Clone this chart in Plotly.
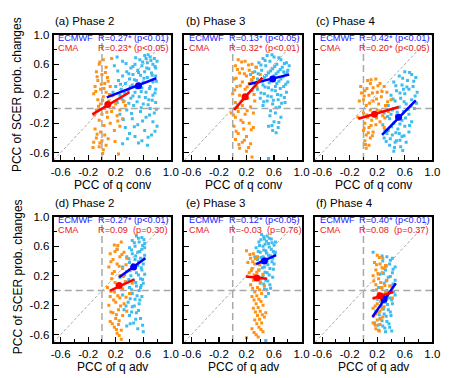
import plotly.graph_objects as go

# ---------------- data ----------------
TITLES = ["(a) Phase 2", "(b) Phase 3", "(c) Phase 4", "(d) Phase 2", "(e) Phase 3", "(f) Phase 4"]
XTITLES = ["PCC of q conv"] * 3 + ["PCC of q adv"] * 3
YTITLE = "PCC of SCER prob. changes"
TICK_VALS = [-0.6, -0.2, 0.2, 0.6, 1.0]
TICK_TEXT = ["-0.6", "-0.2", "0.2", "0.6", "1.0"]
AXIS_RANGE = [-0.7, 1.0]

ECMWF_R = ["R=0.27* (p<0.01)", "R=0.13* (p<0.05)", "R=0.42* (p<0.01)",
           "R=0.27* (p<0.01)", "R=0.12* (p<0.05)", "R=0.40* (p<0.01)"]
CMA_R = ["R=0.23* (p<0.05)", "R=0.32* (p<0.01)", "R=0.20* (p<0.05)",
         "R=0.09\u00a0 (p=0.30)", "R=-0.03\u00a0 (p=0.76)", "R=0.08\u00a0 (p=0.37)"]

# regression segments and mean points
ECMWF_LINE_X = [[0.07, 0.79], [0.23, 0.82], [0.27, 0.76], [0.25, 0.63], [0.34, 0.63], [0.13, 0.47]]
ECMWF_LINE_Y = [[0.15, 0.41], [0.33, 0.46], [-0.36, 0.11], [0.18, 0.44], [0.36, 0.48], [-0.36, 0.10]]
ECMWF_MEAN_X = [0.53, 0.58, 0.51, 0.46, 0.46, 0.30]
ECMWF_MEAN_Y = [0.31, 0.40, -0.12, 0.32, 0.40, -0.12]
CMA_LINE_X = [[-0.14, 0.40], [0.02, 0.43], [-0.075, 0.51], [0.12, 0.47], [0.19, 0.50], [0.13, 0.43]]
CMA_LINE_Y = [[-0.08, 0.22], [-0.02, 0.42], [-0.14, 0.02], [0.00, 0.15], [0.19, 0.16], [-0.11, -0.02]]
CMA_MEAN_X = [0.085, 0.18, 0.16, 0.25, 0.35, 0.24]
CMA_MEAN_Y = [0.053, 0.16, -0.08, 0.07, 0.17, -0.07]

# scatter points (x, y)
A_ECMWF = [(0.62,0.72),(0.70,0.70),(0.76,0.68),(0.55,0.66),(0.66,0.62),(0.74,0.60),(0.48,0.60),(0.58,0.58),
           (0.78,0.55),(0.42,0.55),(0.68,0.54),(0.52,0.52),(0.62,0.50),(0.72,0.48),(0.36,0.50),(0.45,0.46),
           (0.56,0.45),(0.78,0.44),(0.66,0.42),(0.30,0.44),(0.40,0.40),(0.50,0.38),(0.60,0.36),(0.74,0.36),
           (0.24,0.38),(0.34,0.34),(0.44,0.32),(0.70,0.30),(0.58,0.28),(0.78,0.26),(0.20,0.30),(0.28,0.26),
           (0.38,0.24),(0.48,0.22),(0.64,0.22),(0.74,0.18),(0.16,0.22),(0.26,0.18),(0.54,0.16),(0.42,0.14),
           (0.68,0.12),(0.32,0.10),(0.78,0.08),(0.22,0.08),(0.60,0.06),(0.46,0.04),(0.70,0.00),(0.36,-0.02),
           (0.56,-0.04),(0.76,-0.06),(0.26,-0.08),(0.64,-0.12),(0.44,-0.14),(0.74,-0.18),(0.52,-0.22),
           (0.34,-0.26),(0.62,-0.30),(0.72,-0.36),(0.48,-0.38),(0.58,-0.44),(0.30,-0.48),(0.66,-0.50),
           (0.40,-0.34),(0.80,-0.24),(0.22,0.70),(0.30,0.64),(0.18,0.58),(0.80,0.64),(0.64,0.68),(0.50,0.28),
           (0.71,0.65),(0.59,0.63),(0.77,0.57),(0.45,0.57),(0.65,0.55),(0.53,0.49),(0.73,0.45),(0.39,0.47),
           (0.61,0.41),(0.47,0.39),(0.79,0.37),(0.27,0.33),(0.55,0.33),(0.69,0.27),(0.41,0.29),(0.33,0.21),
           (0.57,0.23),(0.77,0.21),(0.45,0.17),(0.63,0.15),(0.29,0.13),(0.73,0.11),(0.51,0.09),(0.39,0.07),
           (0.67,0.05),(0.57,0.01),(0.79,-0.01),(0.43,-0.07),(0.31,-0.15),(0.69,-0.09),(0.59,-0.17),
           (0.47,-0.25),(0.77,-0.31),(0.37,-0.41),(0.67,-0.39),(0.53,-0.47),(0.23,0.51),(0.35,0.61),
           (0.49,0.69),(0.67,0.73)]
A_CMA = [(0.02,0.66),(-0.04,0.60),(0.06,0.56),(-0.08,0.50),(0.00,0.46),(0.08,0.42),(-0.06,0.38),(0.04,0.34),
         (-0.10,0.30),(0.12,0.30),(-0.02,0.26),(0.06,0.22),(-0.12,0.20),(0.02,0.16),(0.16,0.18),(-0.06,0.12),
         (0.10,0.10),(-0.02,0.06),(0.20,0.06),(0.04,0.00),(-0.08,-0.02),(0.14,-0.04),(0.26,-0.02),(0.00,-0.08),
         (0.08,-0.12),(0.22,-0.10),(-0.04,-0.16),(0.30,-0.14),(0.12,-0.20),(0.26,-0.24),(-0.10,-0.28),
         (-0.02,-0.32),(0.04,-0.36),(-0.08,-0.40),(0.00,-0.44),(-0.12,-0.46),(0.06,-0.50),(-0.04,-0.52),
         (0.02,-0.56),(0.24,-0.62),(0.34,0.04),(0.18,-0.30),(0.14,0.68),
         (-0.03,0.63),(0.05,0.49),(-0.07,0.43),(0.09,0.37),(-0.01,0.33),(0.03,0.27),(-0.09,0.23),(0.11,0.19),
         (0.01,0.11),(-0.05,0.03),(0.17,0.01),(0.07,-0.05),(-0.11,-0.09),(0.23,-0.17),(0.03,-0.23),
         (-0.07,-0.35),(0.09,-0.41),(-0.03,-0.47),(-0.13,-0.53),(0.01,-0.61),(0.19,-0.45),(0.31,0.09)]

B_ECMWF = [(0.50,0.72),(0.60,0.70),(0.44,0.68),(0.70,0.66),(0.54,0.64),(0.78,0.62),(0.38,0.62),(0.64,0.60),
           (0.48,0.58),(0.72,0.56),(0.58,0.54),(0.80,0.52),(0.42,0.52),(0.66,0.50),(0.32,0.50),(0.52,0.48),
           (0.76,0.46),(0.60,0.44),(0.46,0.42),(0.70,0.40),(0.36,0.40),(0.56,0.38),(0.80,0.36),(0.28,0.38),
           (0.64,0.34),(0.44,0.32),(0.74,0.30),(0.52,0.28),(0.36,0.26),(0.62,0.24),(0.78,0.22),(0.46,0.20),
           (0.70,0.18),(0.56,0.16),(0.40,0.14),(0.66,0.12),(0.50,0.10),(0.76,0.08),(0.58,0.06),(0.44,0.04),
           (0.68,0.02),(0.62,-0.06),(0.54,-0.10),(0.70,-0.12),(0.60,-0.18),(0.52,-0.24),(0.66,-0.26),
           (0.58,-0.30),(0.52,-0.68),(0.82,0.58),(0.34,0.56),(0.26,0.46),(0.74,0.50),(0.62,0.30),
           (0.57,0.73),(0.67,0.69),(0.47,0.65),(0.75,0.61),(0.61,0.57),(0.41,0.59),(0.69,0.53),(0.55,0.51),
           (0.79,0.49),(0.37,0.47),(0.63,0.47),(0.49,0.45),(0.73,0.43),(0.59,0.41),(0.43,0.37),(0.67,0.37),
           (0.53,0.35),(0.77,0.33),(0.33,0.33),(0.47,0.29),(0.69,0.27),(0.57,0.25),(0.41,0.21),(0.65,0.19),
           (0.51,0.17),(0.75,0.15),(0.59,0.11),(0.45,0.09),(0.71,0.07),(0.63,0.01),(0.55,-0.03),(0.67,-0.19),
           (0.57,-0.23),(0.63,-0.33)]
B_CMA = [(0.08,0.66),(0.18,0.64),(0.28,0.60),(0.04,0.58),(0.14,0.54),(0.24,0.52),(0.34,0.56),(0.10,0.48),
         (0.20,0.44),(0.30,0.42),(0.02,0.40),(0.14,0.36),(0.24,0.34),(0.38,0.36),(0.06,0.30),(0.18,0.26),
         (0.28,0.24),(0.00,0.20),(0.10,0.18),(0.22,0.14),(0.32,0.10),(0.04,0.08),(0.14,0.04),(0.26,0.02),
         (0.08,-0.04),(0.18,-0.08),(0.30,-0.06),(0.04,-0.12),(0.12,-0.16),(0.24,-0.20),(0.02,-0.24),
         (0.16,-0.28),(0.30,-0.26),(0.08,-0.34),(0.20,-0.38),(0.04,-0.42),(0.14,-0.46),(0.26,-0.48),
         (0.10,-0.54),(0.20,-0.58),(0.28,-0.66),(0.40,0.46),(-0.02,-0.06),
         (0.13,0.63),(0.23,0.59),(0.07,0.53),(0.29,0.49),(0.17,0.47),(0.05,0.41),(0.27,0.39),(0.11,0.31),
         (0.21,0.29),(0.03,0.25),(0.31,0.19),(0.15,0.13),(0.07,0.01),(0.21,-0.03),(0.01,-0.09),(0.15,-0.19),
         (0.27,-0.29),(0.05,-0.31),(0.17,-0.43),(0.09,-0.49),(0.23,-0.53),(0.35,0.29)]

C_ECMWF = [(0.60,0.50),(0.70,0.46),(0.52,0.44),(0.76,0.42),(0.64,0.38),(0.44,0.36),(0.56,0.32),(0.72,0.30),
           (0.66,0.26),(0.48,0.24),(0.78,0.22),(0.60,0.20),(0.40,0.18),(0.54,0.14),(0.70,0.12),(0.46,0.10),
           (0.62,0.06),(0.36,0.04),(0.52,0.02),(0.74,0.00),(0.42,-0.02),(0.58,-0.04),(0.30,-0.06),(0.66,-0.08),
           (0.48,-0.10),(0.38,-0.14),(0.56,-0.16),(0.70,-0.18),(0.44,-0.20),(0.28,-0.22),(0.60,-0.24),
           (0.50,-0.28),(0.36,-0.30),(0.66,-0.32),(0.42,-0.36),(0.56,-0.38),(0.30,-0.40),(0.48,-0.44),
           (0.62,-0.46),(0.38,-0.50),(0.54,-0.52),(0.44,-0.58),(0.34,-0.34),(0.40,-0.08),(0.52,-0.34),
           (0.58,0.26),(0.46,-0.46),
           (0.67,0.49),(0.57,0.41),(0.73,0.37),(0.47,0.31),(0.63,0.29),(0.53,0.21),(0.75,0.17),(0.43,0.13),
           (0.59,0.09),(0.69,0.03),(0.49,-0.05),(0.35,-0.11),(0.61,-0.13),(0.53,-0.21),(0.41,-0.25),
           (0.67,-0.23),(0.31,-0.29),(0.47,-0.33),(0.59,-0.37),(0.39,-0.41),(0.53,-0.43),(0.45,-0.53),
           (0.33,-0.45),(0.57,-0.57),(0.77,0.07),(0.65,-0.01)]
C_CMA = [(0.06,0.38),(0.18,0.40),(0.10,0.34),(0.24,0.34),(0.30,0.30),(-0.04,0.30),(0.14,0.28),(0.02,0.24),
         (0.20,0.22),(0.34,0.22),(0.08,0.18),(0.26,0.16),(0.40,0.12),(0.00,0.12),(0.14,0.10),(0.22,0.06),
         (0.32,0.04),(0.04,0.04),(0.10,-0.02),(0.20,-0.02),(0.36,-0.04),(0.00,-0.06),(0.16,-0.08),(0.28,-0.10),
         (0.06,-0.12),(0.12,-0.16),(0.24,-0.18),(0.02,-0.20),(0.18,-0.22),(0.08,-0.26),(0.00,-0.30),
         (0.14,-0.32),(0.04,-0.36),(0.10,-0.40),(0.02,-0.44),(0.08,-0.50),(0.04,-0.54),(-0.06,0.10),
         (-0.08,-0.12),(0.44,0.00),(0.30,-0.26),
         (0.11,0.39),(0.21,0.31),(0.05,0.27),(0.27,0.23),(0.13,0.21),(0.01,0.17),(0.19,0.13),(0.35,0.09),
         (0.09,0.07),(0.25,-0.03),(0.05,-0.09),(0.19,-0.13),(0.11,-0.23),(0.01,-0.27),(0.07,-0.33),
         (0.13,-0.37),(0.03,-0.49),(-0.03,0.21),(0.31,-0.13)]

D_ECMWF = [(0.50,0.74),(0.58,0.72),(0.44,0.68),(0.54,0.66),(0.62,0.64),(0.48,0.60),(0.40,0.58),(0.58,0.56),
           (0.52,0.52),(0.44,0.50),(0.62,0.48),(0.36,0.46),(0.56,0.44),(0.48,0.42),(0.40,0.38),(0.60,0.36),
           (0.52,0.34),(0.30,0.32),(0.44,0.30),(0.58,0.28),(0.36,0.26),(0.50,0.24),(0.62,0.22),(0.42,0.20),
           (0.26,0.18),(0.56,0.16),(0.46,0.14),(0.34,0.12),(0.60,0.10),(0.50,0.06),(0.40,0.04),(0.54,0.00),
           (0.44,-0.04),(0.30,-0.06),(0.58,-0.08),(0.48,-0.12),(0.38,-0.16),(0.54,-0.18),(0.44,-0.22),
           (0.32,-0.26),(0.50,-0.30),(0.40,-0.34),(0.56,-0.38),(0.46,-0.44),(0.36,-0.48),(0.52,-0.52),
           (0.60,-0.56),(0.22,0.56),(0.62,0.58),(0.56,0.04),
           (0.53,0.71),(0.47,0.65),(0.59,0.61),(0.43,0.55),(0.55,0.53),(0.49,0.47),(0.61,0.43),(0.39,0.43),
           (0.53,0.39),(0.45,0.35),(0.57,0.31),(0.41,0.27),(0.53,0.21),(0.59,0.15),(0.39,0.15),(0.49,0.11),
           (0.57,0.07),(0.43,0.01),(0.51,-0.07),(0.41,-0.11),(0.55,-0.13),(0.47,-0.21),(0.35,-0.21),
           (0.53,-0.27),(0.43,-0.29),(0.49,-0.39),(0.41,-0.45),(0.59,-0.47),(0.61,0.69),(0.33,0.21)]
D_CMA = [(0.18,0.62),(0.28,0.66),(0.22,0.56),(0.12,0.50),(0.32,0.52),(0.26,0.46),(0.16,0.42),(0.36,0.44),
         (0.22,0.36),(0.10,0.32),(0.30,0.30),(0.18,0.26),(0.40,0.28),(0.26,0.20),(0.14,0.16),(0.34,0.12),
         (0.22,0.08),(0.08,0.04),(0.30,0.02),(0.18,-0.02),(0.40,-0.04),(0.12,-0.08),(0.26,-0.10),(0.20,-0.16),
         (0.32,-0.18),(0.10,-0.20),(0.24,-0.26),(0.16,-0.30),(0.30,-0.34),(0.20,-0.38),(0.12,-0.42),
         (0.24,-0.46),(0.18,-0.50),(0.28,-0.54),(0.22,-0.58),(0.28,-0.66),(0.44,0.10),(0.36,-0.28),
         (0.23,0.61),(0.19,0.53),(0.29,0.49),(0.13,0.39),(0.25,0.33),(0.35,0.35),(0.15,0.23),(0.31,0.19),
         (0.19,0.11),(0.27,0.05),(0.13,-0.01),(0.23,-0.07),(0.35,-0.09),(0.17,-0.13),(0.27,-0.21),
         (0.13,-0.29),(0.21,-0.33),(0.25,-0.41),(0.15,-0.45),(0.21,-0.53),(0.25,-0.61)]

E_ECMWF = [(0.42,0.76),(0.50,0.74),(0.46,0.70),(0.56,0.70),(0.38,0.66),(0.52,0.64),(0.60,0.62),(0.44,0.60),
           (0.34,0.58),(0.56,0.56),(0.48,0.54),(0.40,0.52),(0.62,0.52),(0.52,0.48),(0.44,0.46),(0.58,0.44),
           (0.36,0.42),(0.50,0.40),(0.42,0.38),(0.60,0.36),(0.46,0.32),(0.54,0.30),(0.38,0.28),(0.50,0.24),
           (0.44,0.20),(0.58,0.18),(0.48,0.14),(0.40,0.10),(0.54,0.08),(0.46,0.02),(0.52,-0.04),(0.48,-0.08),
           (0.48,-0.68),(0.32,0.46),(0.62,0.66),
           (0.45,0.73),(0.53,0.71),(0.41,0.69),(0.49,0.67),(0.57,0.65),(0.47,0.63),(0.39,0.61),(0.53,0.59),
           (0.45,0.55),(0.59,0.53),(0.37,0.53),(0.49,0.51),(0.55,0.47),(0.41,0.45),(0.47,0.43),(0.57,0.39),
           (0.39,0.37),(0.51,0.35),(0.43,0.31),(0.59,0.29),(0.47,0.25),(0.53,0.21),(0.41,0.17),(0.51,0.13),
           (0.45,0.09),(0.55,0.03),(0.49,0.01),(0.61,0.49)]
E_CMA = [(0.20,0.54),(0.30,0.50),(0.26,0.44),(0.36,0.46),(0.22,0.38),(0.32,0.36),(0.42,0.40),(0.28,0.30),
         (0.38,0.28),(0.24,0.24),(0.34,0.20),(0.44,0.22),(0.30,0.14),(0.40,0.12),(0.26,0.08),(0.36,0.04),
         (0.46,0.06),(0.32,-0.02),(0.42,-0.04),(0.28,-0.08),(0.38,-0.12),(0.34,-0.18),(0.44,-0.20),
         (0.30,-0.24),(0.40,-0.28),(0.36,-0.34),(0.46,-0.36),(0.32,-0.40),(0.42,-0.44),(0.38,-0.50),
         (0.28,-0.52),(0.44,-0.56),(0.34,-0.60),(0.20,-0.64),(0.48,-0.30),
         (0.25,0.49),(0.33,0.43),(0.29,0.39),(0.39,0.35),(0.27,0.27),(0.35,0.25),(0.31,0.21),(0.41,0.17),
         (0.29,0.03),(0.39,0.01),(0.35,-0.07),(0.31,-0.13),(0.41,-0.15),(0.37,-0.23),(0.33,-0.29),
         (0.43,-0.33),(0.39,-0.39),(0.35,-0.45),(0.41,-0.53),(0.31,-0.57),(0.37,-0.63)]

F_ECMWF = [(0.14,0.52),(0.34,0.46),(0.42,0.44),(0.28,0.40),(0.38,0.36),(0.46,0.32),(0.32,0.28),(0.42,0.24),
           (0.24,0.22),(0.36,0.18),(0.46,0.14),(0.30,0.10),(0.40,0.06),(0.22,0.04),(0.34,0.00),(0.44,-0.02),
           (0.28,-0.06),(0.38,-0.10),(0.20,-0.12),(0.32,-0.16),(0.42,-0.18),(0.26,-0.22),(0.36,-0.26),
           (0.18,-0.28),(0.30,-0.32),(0.40,-0.34),(0.24,-0.38),(0.34,-0.42),(0.16,-0.44),(0.28,-0.48),
           (0.38,-0.50),(0.22,-0.54),(0.32,-0.56),(0.46,-0.06),
           (0.27,0.47),(0.39,0.41),(0.33,0.33),(0.43,0.29),(0.29,0.23),(0.39,0.19),(0.33,0.13),(0.43,0.09),
           (0.27,0.03),(0.37,-0.03),(0.31,-0.09),(0.41,-0.13),(0.25,-0.15),(0.35,-0.19),(0.29,-0.25),
           (0.39,-0.29),(0.23,-0.33),(0.33,-0.35),(0.27,-0.41),(0.37,-0.45),(0.21,-0.47),(0.31,-0.51),
           (0.41,-0.55),(0.35,-0.09)]
F_CMA = [(0.20,0.48),(0.28,0.44),(0.16,0.38),(0.24,0.36),(0.32,0.34),(0.18,0.28),(0.28,0.24),(0.14,0.20),
         (0.22,0.16),(0.34,0.14),(0.18,0.08),(0.26,0.04),(0.14,0.00),(0.22,-0.04),(0.32,-0.02),(0.16,-0.10),
         (0.26,-0.14),(0.20,-0.18),(0.30,-0.22),(0.14,-0.24),(0.24,-0.28),(0.18,-0.32),(0.28,-0.36),
         (0.20,-0.40),(0.14,-0.44),(0.24,-0.46),(0.18,-0.52),(0.38,0.06),(0.42,-0.10),(0.30,0.30),
         (0.23,0.45),(0.19,0.35),(0.27,0.31),(0.21,0.23),(0.15,0.13),(0.25,0.11),(0.19,0.01),(0.29,-0.05),
         (0.21,-0.09),(0.17,-0.21),(0.27,-0.25),(0.21,-0.29),(0.15,-0.35),(0.25,-0.39),(0.17,-0.47),
         (0.23,-0.55),(0.31,0.07)]

ECMWF_PTS = [A_ECMWF, B_ECMWF, C_ECMWF, D_ECMWF, E_ECMWF, F_ECMWF]
CMA_PTS = [A_CMA, B_CMA, C_CMA, D_CMA, E_CMA, F_CMA]

# ---------------- styling / layout ----------------
W, H = 454, 378
FONT = "Liberation Sans, Arial, Helvetica, sans-serif"
COL_E_PT = "#3DBCF0"
COL_C_PT = "#FF9214"
COL_E_LN = "#0000FF"
COL_C_LN = "#FF0000"
COL_E_TXT = "#2222FF"
COL_C_TXT = "#E82020"
REF = "#A8A8A8"

PX_LEFT = [52, 186, 320]
PX_W = 120
PX_TOP = [29.3, 214.3]
PX_H = 127.2

fig = go.Figure()
layout = dict(width=W, height=H, margin=dict(l=0, r=0, t=0, b=0),
              paper_bgcolor="white", plot_bgcolor="white", showlegend=False,
              font=dict(family=FONT, size=11, color="black"))
annotations = []

for i in range(6):
    col, row = i % 3, i // 3
    xa = "x" if i == 0 else f"x{i+1}"
    ya = "y" if i == 0 else f"y{i+1}"
    xkey = "xaxis" if i == 0 else f"xaxis{i+1}"
    ykey = "yaxis" if i == 0 else f"yaxis{i+1}"
    x0 = PX_LEFT[col] / W
    x1 = (PX_LEFT[col] + PX_W) / W
    ytop = 1 - PX_TOP[row] / H
    ybot = 1 - (PX_TOP[row] + PX_H) / H
    common = dict(range=AXIS_RANGE, showline=True, mirror=True, linecolor="black", linewidth=2,
                  ticks="inside", ticklen=5, tickwidth=1.2, tickcolor="black",
                  tickvals=TICK_VALS, ticktext=TICK_TEXT, showgrid=False, zeroline=False,
                  minor=dict(ticks="inside", ticklen=3, tickwidth=1, tickcolor="black",
                             tickvals=[-0.4, 0.0, 0.4, 0.8], showgrid=False),
                  fixedrange=True)
    layout[xkey] = dict(common, domain=[x0, x1], anchor=ya, tickfont=dict(size=11.5))
    layout[ykey] = dict(common, domain=[ybot, ytop], anchor=xa, showticklabels=(col == 0),
                        tickfont=dict(size=11.5))

    fig.add_trace(go.Scatter(x=AXIS_RANGE, y=AXIS_RANGE, mode="lines", xaxis=xa, yaxis=ya,
                             line=dict(color=REF, width=1, dash="3px,2px"), hoverinfo="skip"))
    cx, cy = zip(*CMA_PTS[i])
    ex, ey = zip(*ECMWF_PTS[i])
    fig.add_trace(go.Scatter(x=ex, y=ey, mode="markers", xaxis=xa, yaxis=ya,
                             marker=dict(symbol="square", size=3, color=COL_E_PT, line=dict(width=0))))
    fig.add_trace(go.Scatter(x=cx, y=cy, mode="markers", xaxis=xa, yaxis=ya,
                             marker=dict(symbol="square", size=3, color=COL_C_PT, line=dict(width=0))))
    fig.add_trace(go.Scatter(x=[0, 0], y=AXIS_RANGE, mode="lines", xaxis=xa, yaxis=ya,
                             line=dict(color=REF, width=1.5, dash="7px,4px"), hoverinfo="skip"))
    fig.add_trace(go.Scatter(x=AXIS_RANGE, y=[0, 0], mode="lines", xaxis=xa, yaxis=ya,
                             line=dict(color=REF, width=1.5, dash="7px,4px"), hoverinfo="skip"))
    fig.add_trace(go.Scatter(x=ECMWF_LINE_X[i], y=ECMWF_LINE_Y[i], mode="lines", xaxis=xa, yaxis=ya,
                             line=dict(color=COL_E_LN, width=2.5)))
    fig.add_trace(go.Scatter(x=CMA_LINE_X[i], y=CMA_LINE_Y[i], mode="lines", xaxis=xa, yaxis=ya,
                             line=dict(color=COL_C_LN, width=2.5)))
    fig.add_trace(go.Scatter(x=[ECMWF_MEAN_X[i]], y=[ECMWF_MEAN_Y[i]], mode="markers", xaxis=xa, yaxis=ya,
                             marker=dict(size=7, color=COL_E_LN)))
    fig.add_trace(go.Scatter(x=[CMA_MEAN_X[i]], y=[CMA_MEAN_Y[i]], mode="markers", xaxis=xa, yaxis=ya,
                             marker=dict(size=7, color=COL_C_LN)))

    tsz = 9.2
    annotations.append(dict(text="ECMWF", xref=f"{xa} domain", yref=f"{ya} domain", x=0.02, y=0.972,
                            xanchor="left", yanchor="middle", showarrow=False,
                            font=dict(size=tsz, color=COL_E_TXT)))
    annotations.append(dict(text=ECMWF_R[i], xref=f"{xa} domain", yref=f"{ya} domain", x=0.36, y=0.972,
                            xanchor="left", yanchor="middle", showarrow=False,
                            font=dict(size=tsz, color=COL_E_TXT)))
    annotations.append(dict(text="CMA", xref=f"{xa} domain", yref=f"{ya} domain", x=0.02, y=0.893,
                            xanchor="left", yanchor="middle", showarrow=False,
                            font=dict(size=tsz, color=COL_C_TXT)))
    annotations.append(dict(text=CMA_R[i], xref=f"{xa} domain", yref=f"{ya} domain", x=0.36, y=0.893,
                            xanchor="left", yanchor="middle", showarrow=False,
                            font=dict(size=tsz, color=COL_C_TXT)))
    annotations.append(dict(text=TITLES[i], xref="paper", yref="paper", x=x0 - 0.002,
                            y=1 - (PX_TOP[row] - 14) / H, xanchor="left", yanchor="middle",
                            showarrow=False, font=dict(size=11.5)))
    annotations.append(dict(text=XTITLES[i], xref="paper", yref="paper", x=(x0 + x1) / 2,
                            y=1 - (PX_TOP[row] + PX_H + 25.5) / H, xanchor="center", yanchor="middle",
                            showarrow=False, font=dict(size=12)))
    if col == 0:
        annotations.append(dict(text=YTITLE, xref="paper", yref="paper", x=15 / W,
                                y=1 - (PX_TOP[row] + PX_H / 2 - 3) / H, xanchor="center",
                                yanchor="middle", textangle=-90, showarrow=False, font=dict(size=12)))

layout["annotations"] = annotations
fig.update_layout(**layout)
fig.write_html("out.html", config={"displayModeBar": False, "staticPlot": True},
               post_script="document.body.style.margin='0';document.body.style.padding='0';")
